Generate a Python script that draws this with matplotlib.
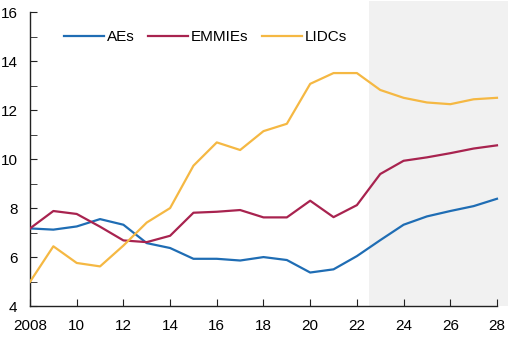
import numpy as np
import matplotlib.pyplot as plt

plt.rcParams['font.family'] = ['Liberation Sans', 'DejaVu Sans']

years = np.arange(2008, 2029)

aes = [7.17, 7.12, 7.25, 7.55, 7.32, 6.57, 6.37, 5.93, 5.93, 5.86, 6.00,
       5.88, 5.37, 5.50, 6.04, 6.69, 7.32, 7.66, 7.88, 8.08, 8.38]
emmies = [7.17, 7.88, 7.76, 7.24, 6.68, 6.61, 6.87, 7.81, 7.85, 7.92, 7.62,
          7.62, 8.30, 7.63, 8.12, 9.39, 9.93, 10.07, 10.24, 10.43, 10.56]
lidcs = [4.99, 6.44, 5.76, 5.62, 6.47, 7.41, 8.00, 9.73, 10.68, 10.37, 11.14,
         11.44, 13.07, 13.51, 13.51, 12.82, 12.50, 12.31, 12.24, 12.44, 12.50]

series = [("AEs", aes, "#1f6db4"),
          ("EMMIEs", emmies, "#a8234f"),
          ("LIDCs", lidcs, "#f5b843")]

fig = plt.figure(figsize=(5.21, 3.42), dpi=100)
ax = fig.add_axes([0.0576, 0.105, 0.9169, 0.892])

# projection period
ax.axvspan(2022.5, 2028.46, color="#f1f1f1", lw=0, zorder=0)

for name, vals, col in series:
    ax.plot(years, vals, color=col, lw=1.6, label=name, zorder=3)

ax.set_xlim(2008, 2028.46)
ax.set_ylim(4, 16.45)

ax.set_xticks(np.arange(2008, 2029, 2))
ax.set_xticklabels(["2008"] + [f"{y % 100:02d}" for y in range(2010, 2029, 2)])
ax.set_yticks(np.arange(4, 17, 2))
ax.set_yticks(np.arange(5, 16, 2), minor=True)

for s in ["top", "right"]:
    ax.spines[s].set_visible(False)
ax.spines["left"].set_bounds(4, 16)
ax.spines["bottom"].set_bounds(2008, 2028)
for s in ["left", "bottom"]:
    ax.spines[s].set_linewidth(1.0)
    ax.spines[s].set_color("#222222")

ax.tick_params(axis="both", which="both", direction="in", labelsize=11,
               color="#222222")
ax.tick_params(axis="y", which="major", length=5, pad=9)
ax.tick_params(axis="y", which="minor", length=5)
ax.tick_params(axis="x", length=5, pad=9.5)

ax.legend(loc="center left", bbox_to_anchor=(0.123, 0.892), ncol=3,
          frameon=False, fontsize=11, handlelength=2.6, handletextpad=0.2,
          columnspacing=0.9, borderpad=0, borderaxespad=0,
          bbox_transform=fig.transFigure)

fig.savefig("out.png", dpi=100)
